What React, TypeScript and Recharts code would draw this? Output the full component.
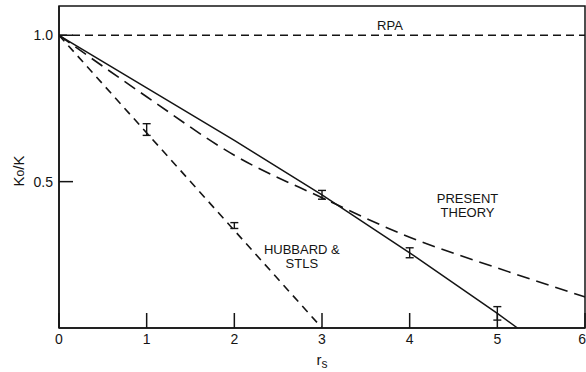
import React from 'react';
import {
  ComposedChart, Line, Scatter, ErrorBar, XAxis, YAxis, ReferenceArea, ReferenceDot,
} from 'recharts';

// r_s axis and K0/K ticks
const xTicks = [0, 1, 2, 3, 4, 5, 6];
const yTicks = [0.5, 1.0];

// RPA: constant ratio
const rpaX = [0, 6];
const rpaY = [1.0, 1.0];

// Hubbard & STLS
const hubbardX = [0, 3];
const hubbardY = [1.0, 0.0];

// present theory
const presentX = [0, 1, 2, 3, 4, 5, 6];
const presentY = [1.0, 0.79, 0.59, 0.445, 0.31, 0.205, 0.106];

// solid curve through the simulation points
const solidX = [0, 1, 2, 3, 4, 5, 5.23];
const solidY = [1.0, 0.82, 0.641, 0.455, 0.257, 0.05, 0.0];

// simulation points with error bars
const mcX = [1, 2, 3, 4, 5];
const mcY = [0.678, 0.35, 0.455, 0.257, 0.05];
const mcErr = [0.02, 0.01, 0.015, 0.017, 0.023];

const zip = (xs: number[], ys: number[]) => xs.map((x, i) => ({ x, y: ys[i] }));

const rpaData = zip(rpaX, rpaY);
const hubbardData = zip(hubbardX, hubbardY);
const presentData = zip(presentX, presentY);
const solidData = zip(solidX, solidY);
const mcData = mcX.map((x, i) => ({ x, y: mcY[i], err: mcErr[i] }));

const notes = [
  { x: 3.775, y: 1.035, lines: ['RPA'] },
  { x: 2.77, y: 0.27, lines: ['HUBBARD &', 'STLS'] },
  { x: 4.66, y: 0.443, lines: ['PRESENT', 'THEORY'] },
];

const INK = '#141414';
const FONT = '"Liberation Sans", Arial, sans-serif';

const XTick = ({ x, y, payload }: any) => {
  // the last label sits on the right frame edge, so pull it inside
  const last = payload.value === xTicks[xTicks.length - 1];
  return (
    <g>
      <line x1={x} x2={x} y1={y} y2={y - 15} stroke={INK} strokeWidth={1.5} />
      <text
        x={last ? x + 1 : x}
        y={y + 16}
        textAnchor={last ? 'end' : 'middle'}
        fontSize={14}
        fontFamily={FONT}
        fill={INK}
      >
        {payload.value}
      </text>
    </g>
  );
};

const YTick = ({ x, y, payload }: any) => (
  <g>
    <line x1={x} x2={x + 14} y1={y} y2={y} stroke={INK} strokeWidth={1.5} />
    <text x={x - 6} y={y + 5} textAnchor="end" fontSize={14} fontFamily={FONT} fill={INK}>
      {Number(payload.value).toFixed(1)}
    </text>
  </g>
);

const NoteText = ({ viewBox, lines }: any) => {
  const cx = viewBox.x + (viewBox.width || 0) / 2;
  const cy = viewBox.y + (viewBox.height || 0) / 2;
  return (
    <text x={cx} y={cy + 5} textAnchor="middle" fontSize={13} fontFamily={FONT} fill={INK}>
      {lines.map((l: string, i: number) => (
        <tspan key={i} x={cx} dy={i === 0 ? 0 : 14}>{l}</tspan>
      ))}
    </text>
  );
};

export default function App() {
  return (
    <div style={{ position: 'absolute', left: 0, top: 0, background: '#fff' }}>
      <ComposedChart width={586} height={372} margin={{ top: 6, right: 1, left: 0, bottom: 0 }}>
        <XAxis
          type="number"
          dataKey="x"
          domain={[0, 6]}
          ticks={xTicks}
          interval={0}
          height={44}
          tickSize={0}
          tickMargin={0}
          tick={<XTick />}
          axisLine={{ stroke: INK, strokeWidth: 1.5 }}
          allowDataOverflow
          label={{
            content: ({ viewBox }: any) => (
              <text
                x={viewBox.x + viewBox.width / 2}
                y={viewBox.y + 37}
                textAnchor="middle"
                fontFamily={FONT}
                fill={INK}
                fontSize={15}
              >
                r<tspan fontSize={12} dy={3}>s</tspan>
              </text>
            ),
          }}
        />
        <YAxis
          type="number"
          dataKey="y"
          domain={[0, 1.1]}
          ticks={yTicks}
          interval={0}
          width={59}
          tickSize={0}
          tickMargin={0}
          tick={<YTick />}
          axisLine={{ stroke: INK, strokeWidth: 1.5 }}
          allowDataOverflow
          label={{
            content: ({ viewBox }: any) => {
              const cx = viewBox.x + 18;
              const cy = viewBox.y + viewBox.height / 2 + 4;
              return (
                <text
                  x={cx}
                  y={cy}
                  transform={`rotate(-90 ${cx} ${cy})`}
                  textAnchor="middle"
                  dominantBaseline="central"
                  fontFamily={FONT}
                  fill={INK}
                  fontSize={15}
                >
                  K<tspan fontSize={12} dy={2}>o</tspan><tspan dy={-2}>/K</tspan>
                </text>
              );
            },
          }}
        />
        <ReferenceArea x1={0} x2={6} y1={0} y2={1.1} fill="none" stroke={INK} strokeWidth={1.5} ifOverflow="visible" />
        <Line data={rpaData} dataKey="y" type="linear" stroke={INK} strokeWidth={1.6} strokeDasharray="8 5" dot={false} isAnimationActive={false} />
        <Line data={hubbardData} dataKey="y" type="linear" stroke={INK} strokeWidth={1.6} strokeDasharray="8 6" dot={false} isAnimationActive={false} />
        <Line data={presentData} dataKey="y" type="monotone" stroke={INK} strokeWidth={1.6} strokeDasharray="13 7" dot={false} isAnimationActive={false} />
        <Line data={solidData} dataKey="y" type="linear" stroke={INK} strokeWidth={1.5} dot={false} isAnimationActive={false} />
        <Scatter data={mcData} dataKey="y" shape={() => <g />} isAnimationActive={false}>
          <ErrorBar dataKey="err" direction="y" width={4} stroke={INK} strokeWidth={1.4} isAnimationActive={false} />
        </Scatter>
        {notes.map((n, i) => (
          <ReferenceDot
            key={i}
            x={n.x}
            y={n.y}
            r={0}
            fill="none"
            stroke="none"
            ifOverflow="visible"
            label={{ content: (p: any) => <NoteText viewBox={p.viewBox} lines={n.lines} /> }}
          />
        ))}
      </ComposedChart>
    </div>
  );
}
